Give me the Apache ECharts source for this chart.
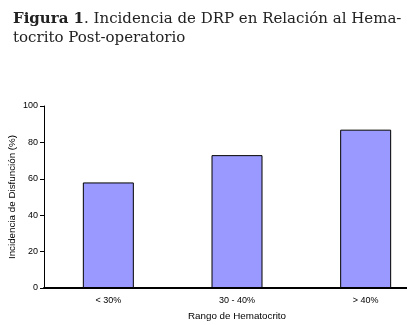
<!DOCTYPE html>
<html>
<head>
<meta charset="utf-8">
<script src="https://cdn.jsdelivr.net/npm/echarts@6/dist/echarts.min.js"></script>
<style>
html, body { margin: 0; padding: 0; background: #fff; }
#chart { width: 407px; height: 325px; }
</style>
</head>
<body>
<div id="chart"></div>
<script>
var categories = ['< 30%', '30 - 40%', '> 40%'];
var incidence = [58, 73, 87];
var yTicks = [0, 20, 40, 60, 80, 100];

var myChart = echarts.init(document.getElementById('chart'));

myChart.setOption({
    animation: false,
    backgroundColor: '#fff',
    title: {
        left: 8,
        top: 5,
        text: '{b|Figura 1}{n|. Incidencia de DRP en Relación al Hema-}\n{n|tocrito Post-operatorio}',
        textStyle: {
            fontWeight: 'normal',
            rich: {
                b: { fontFamily: 'DejaVu Serif', fontWeight: 'bold', fontSize: 15, color: '#222', lineHeight: 19 },
                n: { fontFamily: 'DejaVu Serif', fontWeight: 'normal', fontSize: 15, color: '#222', lineHeight: 19 }
            }
        }
    },
    grid: {
        left: 44,
        top: 106,
        bottom: 37,
        width: 386,
        outerBoundsMode: 'none'
    },
    xAxis: {
        type: 'category',
        data: categories,
        name: 'Rango de Hematocrito',
        nameLocation: 'middle',
        nameGap: 23,
        nameMoveOverlap: false,
        nameTextStyle: { fontFamily: 'Liberation Sans', fontSize: 9.8, color: '#000' },
        axisLine: { lineStyle: { color: '#000', width: 2 } },
        axisTick: { length: 4, lineStyle: { color: '#000' } },
        axisLabel: { fontFamily: 'Liberation Sans', fontSize: 9, color: '#000', margin: 8 }
    },
    yAxis: {
        type: 'value',
        min: yTicks[0],
        max: yTicks[yTicks.length - 1],
        interval: 20,
        name: 'Incidencia de Disfunción (%)',
        nameLocation: 'middle',
        nameGap: 27,
        nameMoveOverlap: false,
        nameTextStyle: { fontFamily: 'Liberation Sans', fontSize: 9.8, color: '#000' },
        axisLine: { show: true, lineStyle: { color: '#000', width: 1 } },
        axisTick: { show: true, length: 4, lineStyle: { color: '#000' } },
        axisLabel: { fontFamily: 'Liberation Sans', fontSize: 9, color: '#000', margin: 6 },
        splitLine: { show: false }
    },
    series: [
        {
            type: 'bar',
            data: incidence,
            barWidth: 51,
            itemStyle: { color: '#9999ff', borderColor: '#000', borderWidth: 1 }
        }
    ]
});
</script>
</body>
</html>
